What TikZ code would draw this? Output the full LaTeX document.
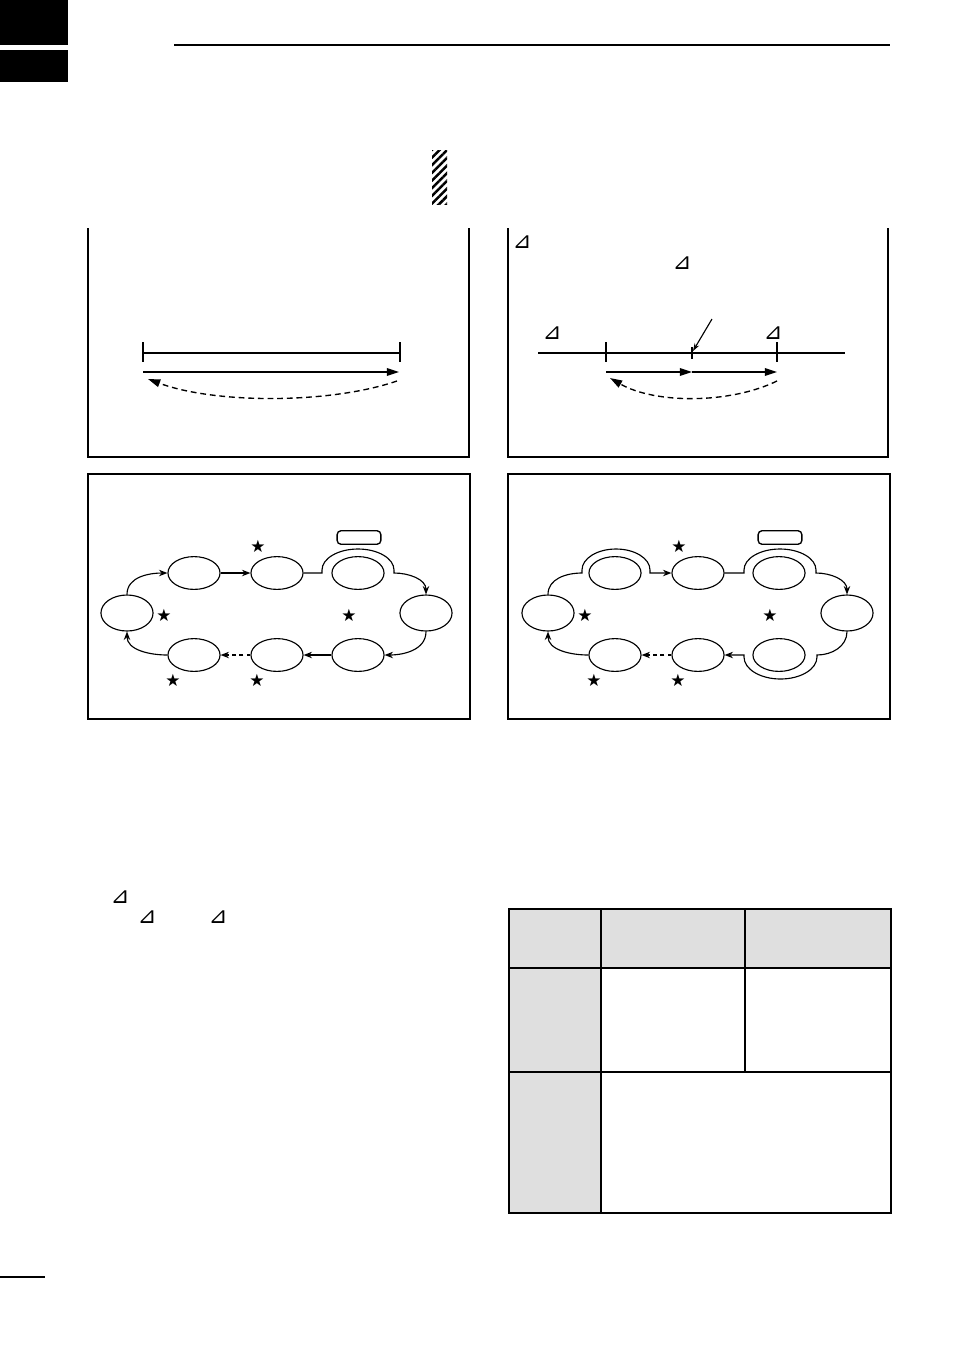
\documentclass[tikz,border=0pt]{standalone}
\usepackage{fontspec}
\newfontfamily\symfont{DejaVu Sans}
\usetikzlibrary{arrows.meta,positioning,shapes.geometric,patterns.meta}
\definecolor{cellgray}{HTML}{DFDFDF}

\begin{document}
\begin{tikzpicture}[x=0.1555mm,y=-0.1555mm,
  modeoval/.style={draw,ellipse,line width=0.5pt,minimum width=8.1mm,minimum height=5.1mm,inner sep=0pt},
  sideoval/.style={modeoval,minimum height=5.6mm},
  keybox/.style={draw,rounded corners=0.6mm,line width=0.6pt,minimum width=6.8mm,minimum height=2.1mm,inner sep=0pt},
  starmark/.style={font=\symfont\fontsize{7.5}{7.5}\selectfont,inner sep=0pt},
  deltamark/.style={font=\symfont\fontsize{10}{10}\selectfont,inner sep=0pt},
  frame/.style={line width=0.9pt},
  scanline/.style={line width=0.6pt},
  retrace/.style={line width=0.6pt,dash pattern=on 0.9mm off 0.6mm},
  modeline/.style={line width=0.5pt,>={Stealth[length=1.3mm,width=1mm]}},
  >={Triangle[length=1.9mm,width=1.2mm]}]
\useasboundingbox (0,0) rectangle (954,1349);

% page head
\fill (0,0) rectangle (68,45);
\fill (0,50) rectangle (68,82);
\draw[line width=1.2pt] (174,45) -- (890,45);
\fill[pattern={Lines[angle=45,distance=2.4pt,line width=1.1pt]}] (432,150) rectangle (447,204);

% programmed scan
\draw[frame] (88,228) |- (469,457) -- (469,228);
\coordinate (lo) at (143,353);
\coordinate (hi) at (400,353);
\draw[scanline] (lo) -- (hi);
\draw[scanline] (lo) ++(0,-11) -- ++(0,20);
\draw[scanline] (hi) ++(0,-11) -- ++(0,20);
\draw[scanline,->] (143,372) -- (399,372);
\draw[retrace,->] (397,381) .. controls (330,404) and (215,404) .. (148,379);

% delta scan
\draw[frame] (508,228) |- (888,457) -- (888,228);
\node[deltamark] (d1) at (522,242) {⊿};
\node[deltamark] (d2) at (682,263) {⊿};
\node[deltamark] (d3) at (552,333) {⊿};
\node[deltamark] (d4) at (773,333) {⊿};
\coordinate (dlo) at (606,353);
\coordinate (mid) at (692,353);
\coordinate (dhi) at (777,353);
\draw[scanline] (538,353) -- (845,353);
\draw[line width=1.1pt] (dlo) -- (dhi);
\draw[scanline] (dlo) ++(0,-11) -- ++(0,20);
\draw[scanline] (dhi) ++(0,-11) -- ++(0,20);
\draw[line width=0.9pt] (mid) ++(0,-6) -- ++(0,12);
\coordinate (ptr) at (712,319);
\draw[line width=0.5pt,-{Stealth[length=1.2mm,width=0.8mm]}] (ptr) -- ([shift={(1,-2)}]mid);
\draw[scanline,->] (606,372) -- (692,372);
\draw[scanline,->] (692,372) -- (777,372);
\draw[retrace,->] (777,381) .. controls (730,404) and (655,404) .. (610,378);

% mode loops
\draw[frame] (88,474) rectangle (470,719);
\draw[frame] (508,474) rectangle (890,719);
\foreach \p/\dx in {a/0,b/421}{
  \node[modeoval] (\p1) at (194+\dx,573) {};
  \node[modeoval] (\p2) at (277+\dx,573) {};
  \node[modeoval] (\p3) at (358+\dx,573) {};
  \node[sideoval] (\p4) at (426+\dx,613) {};
  \node[sideoval] (\p5) at (127+\dx,613) {};
  \node[modeoval] (\p6) at (358+\dx,655) {};
  \node[modeoval] (\p7) at (277+\dx,655) {};
  \node[modeoval] (\p8) at (194+\dx,655) {};
  \node[keybox] (\p key) at (359+\dx,537.5) {};
  \node[starmark] at (258+\dx,546) {★};
  \node[starmark] at (164+\dx,615) {★};
  \node[starmark] at (349+\dx,615) {★};
  \node[starmark] at (173+\dx,680) {★};
  \node[starmark] at (257+\dx,680) {★};
}
\draw[modeline,->] (a5.north) to[out=90,in=180] (a1.west);
\draw[modeline,->] (a1) -- (a2);
\draw[modeline,->] (a2.east) -- (322,573) -- (322,570) arc(180:360:36 and 21) -- (394,573) to[out=0,in=90] (a4.north);
\draw[modeline,->] (a4.south) to[out=-90,in=0] (a6.east);
\draw[modeline,->] (a6) -- (a7);
\draw[modeline,dash pattern=on 0.6mm off 0.5mm,->] (a7) -- (a8);
\draw[modeline,->] (a8.west) to[out=180,in=-90] (a5.south);

\draw[modeline,->] (b5.north) to[out=90,in=180] (582,573) -- (582,570) arc(180:360:34 and 21) -- (650,573) -- (b2.west);
\draw[modeline,->] (b2.east) -- (744,573) -- (744,570) arc(180:360:36 and 21) -- (816,573) to[out=0,in=90] (b4.north);
\draw[modeline,->] (b4.south) to[out=-90,in=0] (817,655) -- (817,657) arc(0:180:36.5 and 22) -- (744,655) -- (b7.east);
\draw[modeline,dash pattern=on 0.6mm off 0.5mm,->] (b7) -- (b8);
\draw[modeline,->] (b8.west) to[out=180,in=-90] (b5.south);

% text marks
\node[deltamark] (d5) at (120,897) {⊿};
\node[deltamark] (d6) at (147,917) {⊿};
\node[deltamark] (d7) at (218,917) {⊿};

% table
\fill[cellgray] (509,909) rectangle (891,968);
\fill[cellgray] (509,968) rectangle (601,1213);
\draw[frame] (509,909) rectangle (891,1213);
\draw[frame] (601,909) -- (601,1213);
\draw[frame] (745,909) -- (745,1072);
\draw[frame] (509,968) -- (891,968);
\draw[frame] (509,1072) -- (891,1072);

% foot
\draw[line width=0.5pt] (0,1277) -- (45,1277);
\end{tikzpicture}
\end{document}
